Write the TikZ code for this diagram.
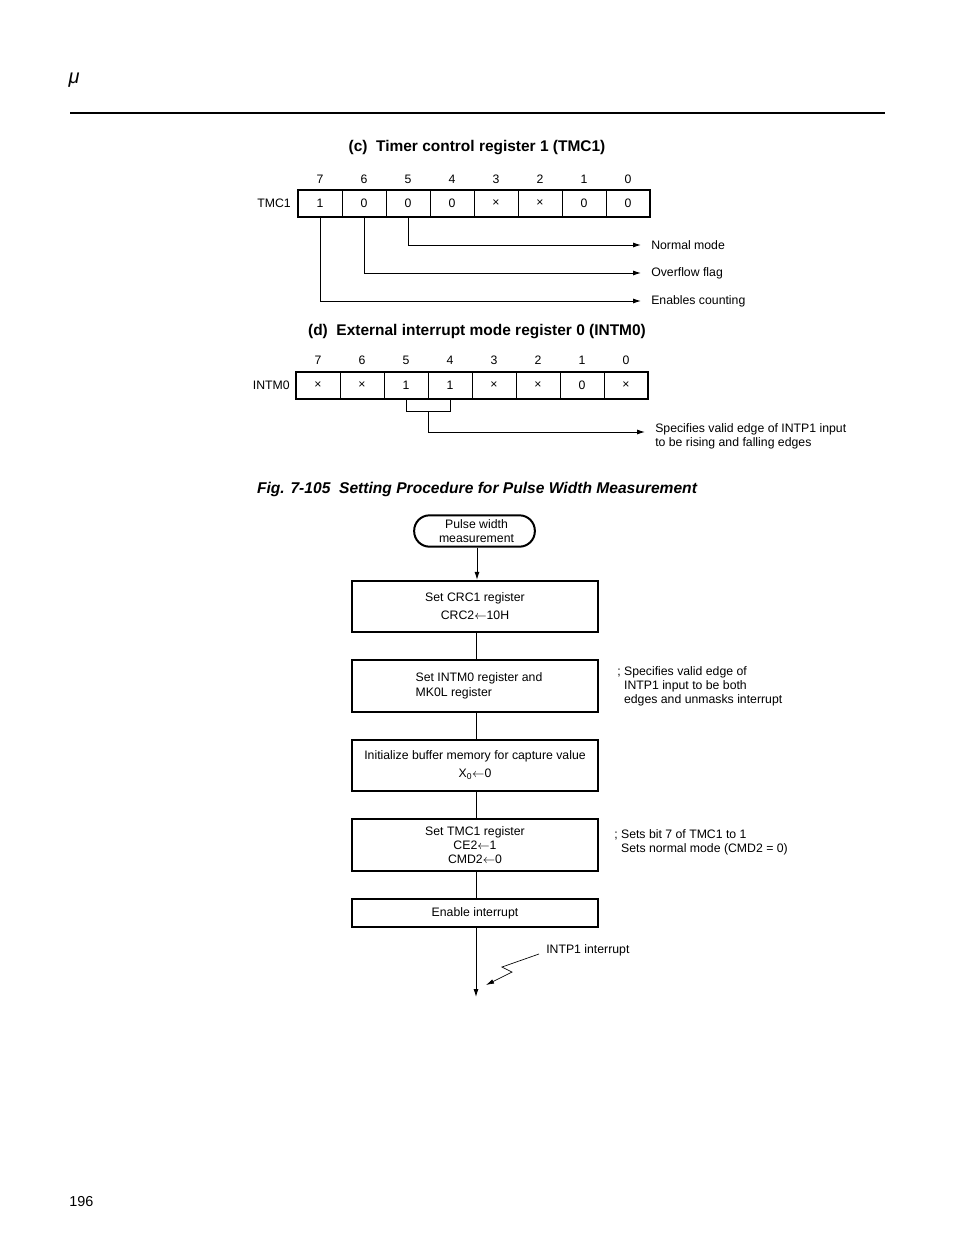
\documentclass[tikz,border=0pt]{standalone}
\usepackage{fontspec}
\setmainfont{Liberation Sans}
\usetikzlibrary{arrows.meta}
\begin{document}
\begin{tikzpicture}[x=0.75pt,y=-0.75pt,
  every node/.style={inner sep=0pt,font=\fontsize{9.2}{10.5}\selectfont},
  ttl/.style={font=\fontsize{11.6}{13}\selectfont\bfseries},
  cell/.style={draw,line width=0.7pt,minimum width=33pt,minimum height=20pt},
  lbl/.style={anchor=west,inner xsep=7.5pt,align=left},
  conn/.style={line width=0.7pt,-{Latex[length=6pt,width=3.8pt]}},
  wire/.style={line width=0.7pt},
  fbox/.style={draw,line width=1.5pt,minimum width=184.5pt,minimum height=38.5pt,align=center},
  cmt/.style={anchor=west,align=left}
]
\useasboundingbox (0,0) rectangle (954,1235);
\fill[white] (0,0) rectangle (954,1235);

% header
\node (mu) at (74,80) {\fontsize{15}{15}\selectfont\itshape μ};
\draw[line width=1.9pt] (70,113) -- (885,113);

% (c) TMC1
\node[ttl] (tc) at (477,147.5) {(c)\ \ Timer control register 1 (TMC1)};
\foreach \v [count=\k from 0] in {1,0,0,0,×,×,0,0} {
  \pgfmathtruncatemacro\b{7-\k}
  \node[cell] (t\b) at ({320+44*\k},203.5) {\v};
  \node (tn\b) at ({320+44*\k},179) {\b};
}
\draw[line width=1.5pt] (t7.north west) rectangle (t0.south east);
\node[anchor=east] (tl) at (291,203.5) {TMC1};
\node[lbl] (nm) at (641,245) {Normal mode};
\node[lbl] (of) at (641,273) {Overflow flag};
\node[lbl] (ec) at (641,301) {Enables counting};
\draw[conn] (t5.south) |- (nm.west);
\draw[conn] (t6.south) |- (of.west);
\draw[conn] (t7.south) |- (ec.west);

% (d) INTM0
\node[ttl] (td) at (477,331.5) {(d)\ \ External interrupt mode register 0 (INTM0)};
\foreach \v [count=\k from 0] in {×,×,1,1,×,×,0,×} {
  \pgfmathtruncatemacro\b{7-\k}
  \node[cell,minimum height=19pt] (i\b) at ({318+44*\k},385.5) {\v};
  \node (in\b) at ({318+44*\k},360) {\b};
}
\draw[line width=1.5pt] (i7.north west) rectangle (i0.south east);
\node[anchor=east] (il) at (290,385.5) {INTM0};
\draw[wire] (i5.south) -- ++(0,13) -| (i4.south);
\path (i5.south) ++(22,13) coordinate (br);
\node[lbl] (sp) at (645,436) {Specifies valid edge of INTP1 input\\to be rising and falling edges};
\draw[conn] (br) |- ([yshift=3pt]sp.west);

% figure title
\node[font=\fontsize{11.7}{13}\selectfont\bfseries\itshape] (fig) at (477,489)
  {Fig. 7-105\ \ Setting Procedure for Pulse Width Measurement};

% flowchart
\node[draw,line width=1.5pt,rounded corners=11.5pt,minimum width=90.5pt,minimum height=23.5pt,align=center] (st) at (474.5,531)
  {\hspace*{3pt}Pulse width\\\hspace*{3pt}measurement};
\node[fbox] (b1) at (475,606.5) {Set CRC1 register\\[3pt]CRC2$\leftarrow$10H};
\node[fbox] (b2) at (475,686) {\raisebox{-2pt}{\begin{tabular}{@{}l@{}}Set INTM0 register and\\[0.5pt]MK0L register\end{tabular}}\hspace*{-6pt}};
\node[fbox] (b3) at (475,765.5) {Initialize buffer memory for capture value\\[3pt]X\textsubscript{0}$\leftarrow$0};
\node[fbox] (b4) at (475,845) {Set TMC1 register\\CE2$\leftarrow$1\\CMD2$\leftarrow$0};
\node[fbox,minimum height=20.5pt] (b5) at (475,913) {Enable interrupt};
\coordinate (fend) at (476,997);

\draw[conn] (st.south -| 477,0) -- (b1.north -| 477,0);
\draw[wire] (b1.south -| 476,0) -- (b2.north -| 476,0);
\draw[wire] (b2.south -| 476,0) -- (b3.north -| 476,0);
\draw[wire] (b3.south -| 476,0) -- (b4.north -| 476,0);
\draw[wire] (b4.south -| 476,0) -- (b5.north -| 476,0);
\draw[conn] (b5.south -| 476,0) -- (fend);

\node[cmt] (c2) at (617,686) {; Specifies valid edge of\\\phantom{; }INTP1 input to be both\\\phantom{; }edges and unmasks interrupt};
\node[cmt] (c4) at (614,842.5) {; Sets bit 7 of TMC1 to 1\\\phantom{; }Sets normal mode (CMD2 = 0)};

% interrupt
\node[anchor=west] (intp) at (546,950) {INTP1 interrupt};
\coordinate (z0) at (539,954);
\coordinate (z1) at (502,967);
\coordinate (z2) at (512,972);
\coordinate (z3) at (486,985);
\draw[line width=0.5pt,-{Latex[length=6pt,width=3.5pt]}] (z0) -- (z1) -- (z2) -- (z3);

% page number
\node[anchor=west,font=\fontsize{10.8}{12}\selectfont] (pg) at (69,1202) {196};
\end{tikzpicture}
\end{document}
